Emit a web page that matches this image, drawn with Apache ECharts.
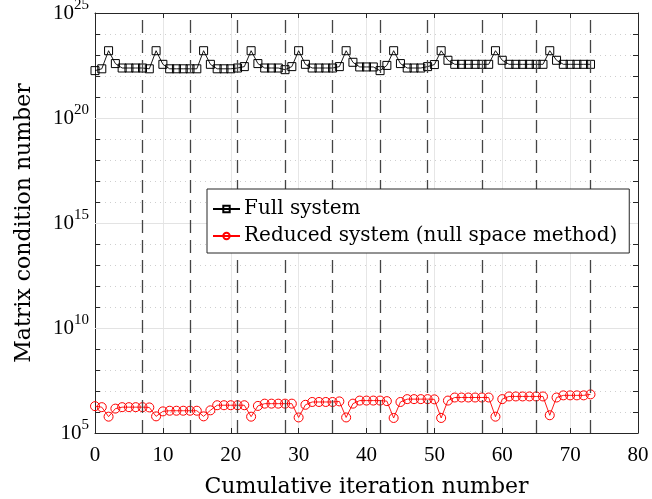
<!DOCTYPE html>
<html>
<head>
<meta charset="utf-8">
<script src="https://cdn.jsdelivr.net/npm/echarts@6/dist/echarts.min.js"></script>
<style>
  html, body { margin: 0; padding: 0; background: #fff; }
  #chart { width: 652px; height: 499px; }
</style>
</head>
<body>
<div id="chart"></div>
<script>
// Cumulative iteration index
const iterations = [
  0, 1, 2, 3, 4, 5, 6, 7, 8, 9, 10, 11, 12, 13, 14, 15, 16, 17, 18, 19,
  20, 21, 22, 23, 24, 25, 26, 27, 28, 29, 30, 31, 32, 33, 34, 35, 36, 37, 38, 39,
  40, 41, 42, 43, 44, 45, 46, 47, 48, 49, 50, 51, 52, 53, 54, 55, 56, 57, 58, 59,
  60, 61, 62, 63, 64, 65, 66, 67, 68, 69, 70, 71, 72, 73
];

// Condition number of the full system matrix
const fullSystem = [
  1.8e22, 2.2e22, 1.6e23, 3.9e22, 2.4e22, 2.4e22, 2.4e22, 2.4e22,
  2.2e22, 1.6e23, 3.6e22, 2.2e22, 2.2e22, 2.2e22, 2.2e22,
  2.2e22, 1.6e23, 3.6e22, 2.2e22, 2.2e22, 2.2e22, 2.4e22,
  2.8e22, 1.6e23, 3.9e22, 2.4e22, 2.4e22, 2.4e22, 2.0e22,
  2.8e22, 1.6e23, 3.6e22, 2.4e22, 2.4e22, 2.4e22, 2.4e22,
  2.8e22, 1.6e23, 4.5e22, 2.7e22, 2.7e22, 2.7e22, 1.8e22,
  3.2e22, 1.6e23, 3.9e22, 2.4e22, 2.4e22, 2.4e22, 2.8e22,
  3.5e22, 1.6e23, 5.6e22, 3.6e22, 3.6e22, 3.6e22, 3.6e22, 3.6e22,
  3.6e22, 1.6e23, 5.6e22, 3.6e22, 3.6e22, 3.6e22, 3.6e22, 3.6e22,
  3.6e22, 1.6e23, 5.6e22, 3.6e22, 3.6e22, 3.6e22, 3.6e22, 3.6e22
];

// Condition number of the reduced (null space) system matrix
const reducedSystem = [
  1.9e6, 1.7e6, 6.0e5, 1.45e6, 1.7e6, 1.7e6, 1.7e6, 1.7e6,
  1.65e6, 6.2e5, 1.07e6, 1.15e6, 1.15e6, 1.15e6, 1.15e6,
  1.15e6, 6.2e5, 1.2e6, 2.1e6, 2.1e6, 2.1e6, 2.1e6,
  2.1e6, 6.0e5, 1.95e6, 2.5e6, 2.5e6, 2.5e6, 2.5e6,
  2.5e6, 5.5e5, 2.2e6, 3.0e6, 3.0e6, 3.0e6, 3.0e6,
  3.2e6, 5.5e5, 2.5e6, 3.5e6, 3.5e6, 3.5e6, 3.5e6,
  3.3e6, 5.2e5, 3.0e6, 4.1e6, 4.1e6, 4.1e6, 4.1e6,
  4.0e6, 5.2e5, 3.5e6, 4.9e6, 4.9e6, 4.9e6, 4.9e6, 4.9e6,
  4.9e6, 6.0e5, 4.1e6, 5.5e6, 5.5e6, 5.5e6, 5.5e6, 5.5e6,
  5.5e6, 7.0e5, 4.9e6, 6.2e6, 6.2e6, 6.2e6, 6.2e6, 6.9e6
];

// Iterations at which a new load step starts (dashed separators)
const stepBoundaries = [7, 14, 21, 28, 35, 42, 49, 57, 65, 73];

// Exponents that carry a labelled tick and a solid grid line
const labelledExponents = [5, 10, 15, 20, 25];
const majorGridValues = [1e10, 1e15, 1e20];

const seriesNames = ['Full system', 'Reduced system (null space method)'];
const yTitle = 'Matrix condition number';
const xTitle = 'Cumulative iteration number';

const TEXT_FONT = 'DejaVu Serif';
const NUM_FONT = 'Liberation Serif';
const AXIS_COLOR = '#262626';

const chart = echarts.init(document.getElementById('chart'), null, { renderer: 'canvas' });

function pairs(ys) {
  return iterations.map((x, i) => [x, ys[i]]);
}

const option = {
  animation: false,
  backgroundColor: '#fff',
  grid: { left: 95, right: 14, top: 13, bottom: 66, containLabel: false, outerBoundsMode: 'none' },
  legend: {
    z: 20,
    orient: 'vertical',
    left: 207,
    top: 189,
    padding: [10, 12, 7, 5],
    itemGap: 7,
    itemWidth: 27,
    itemHeight: 8,
    backgroundColor: '#fff',
    borderColor: AXIS_COLOR,
    borderWidth: 1,
    borderRadius: 0,
    textStyle: { fontFamily: TEXT_FONT, fontSize: 20, color: '#000', padding: [0, 0, 0, -1] },
    data: seriesNames
  },
  xAxis: [
    {
      type: 'value', min: 0, max: 80, interval: 10,
      name: xTitle,
      nameLocation: 'middle', nameGap: 43,
      nameTextStyle: { fontFamily: TEXT_FONT, fontSize: 22, color: '#000' },
      axisLine: { onZero: false, lineStyle: { color: AXIS_COLOR, width: 1 } },
      axisTick: { inside: true, length: 5, lineStyle: { color: AXIS_COLOR } },
      axisLabel: { fontFamily: NUM_FONT, fontSize: 21, color: '#000', margin: 12 },
      splitLine: { show: true, lineStyle: { color: '#e6e6e6', width: 1 } }
    },
    {
      type: 'value', min: 0, max: 80, interval: 10, position: 'top',
      axisLine: { onZero: false, lineStyle: { color: AXIS_COLOR, width: 1 } },
      axisTick: { inside: true, length: 5, lineStyle: { color: AXIS_COLOR } },
      axisLabel: { show: false },
      splitLine: { show: false }
    }
  ],
  yAxis: [
    {
      // one tick per decade; only every fifth decade is labelled
      type: 'log', logBase: 10, min: 1e5, max: 1e25, interval: 1,
      name: yTitle,
      nameLocation: 'middle', nameGap: 60,
      nameTextStyle: { fontFamily: TEXT_FONT, fontSize: 22, color: '#000' },
      axisLine: { onZero: false, lineStyle: { color: AXIS_COLOR, width: 1 } },
      axisTick: { inside: true, length: 5, lineStyle: { color: AXIS_COLOR } },
      axisLabel: {
        margin: 6,
        hideOverlap: false,
        formatter: function (v) {
          const e = Math.round(Math.log10(v));
          if (labelledExponents.indexOf(e) < 0) return '';
          return '{b|10}{s|' + e + '}';
        },
        rich: {
          b: { fontFamily: NUM_FONT, fontSize: 21, color: '#000', lineHeight: 30, verticalAlign: 'middle' },
          s: { fontFamily: NUM_FONT, fontSize: 15, color: '#000', lineHeight: 14, verticalAlign: 'top' }
        }
      },
      splitLine: { show: true, lineStyle: { color: '#cfcfcf', width: 1, type: [1, 4] } }
    },
    {
      type: 'log', logBase: 10, min: 1e5, max: 1e25, interval: 1, position: 'right',
      axisLine: { onZero: false, lineStyle: { color: AXIS_COLOR, width: 1 } },
      axisTick: { inside: true, length: 5, lineStyle: { color: AXIS_COLOR } },
      axisLabel: { show: false },
      splitLine: { show: false }
    }
  ],
  series: [
    {
      // hosts the grid guides that sit beneath the data
      type: 'line', name: 'guides', data: [], z: 0, silent: true,
      markLine: {
        silent: true, symbol: 'none', animation: false,
        label: { show: false },
        lineStyle: { color: '#e3e3e3', width: 1, type: 'solid' },
        data: majorGridValues.map(v => ({ yAxis: v }))
      }
    },
    {
      type: 'line', name: 'separators', data: [], z: 1, silent: true,
      markLine: {
        silent: true, symbol: 'none', animation: false,
        label: { show: false },
        lineStyle: { color: '#444', width: 1.3, type: [13, 7] },
        data: stepBoundaries.map(v => ({ xAxis: v }))
      }
    },
    {
      type: 'line', name: seriesNames[0], data: pairs(fullSystem), z: 3,
      symbol: 'rect', symbolSize: 8, showAllSymbol: true,
      lineStyle: { color: '#000', width: 0.9 },
      itemStyle: { color: 'rgba(0,0,0,0)', borderColor: '#000', borderWidth: 1 }
    },
    {
      type: 'line', name: seriesNames[1], data: pairs(reducedSystem), z: 3,
      symbol: 'circle', symbolSize: 9, showAllSymbol: true,
      lineStyle: { color: '#ff0000', width: 0.9 },
      itemStyle: { color: 'rgba(0,0,0,0)', borderColor: '#ff0000', borderWidth: 1 }
    }
  ]
};

chart.setOption(option);
</script>
</body>
</html>
